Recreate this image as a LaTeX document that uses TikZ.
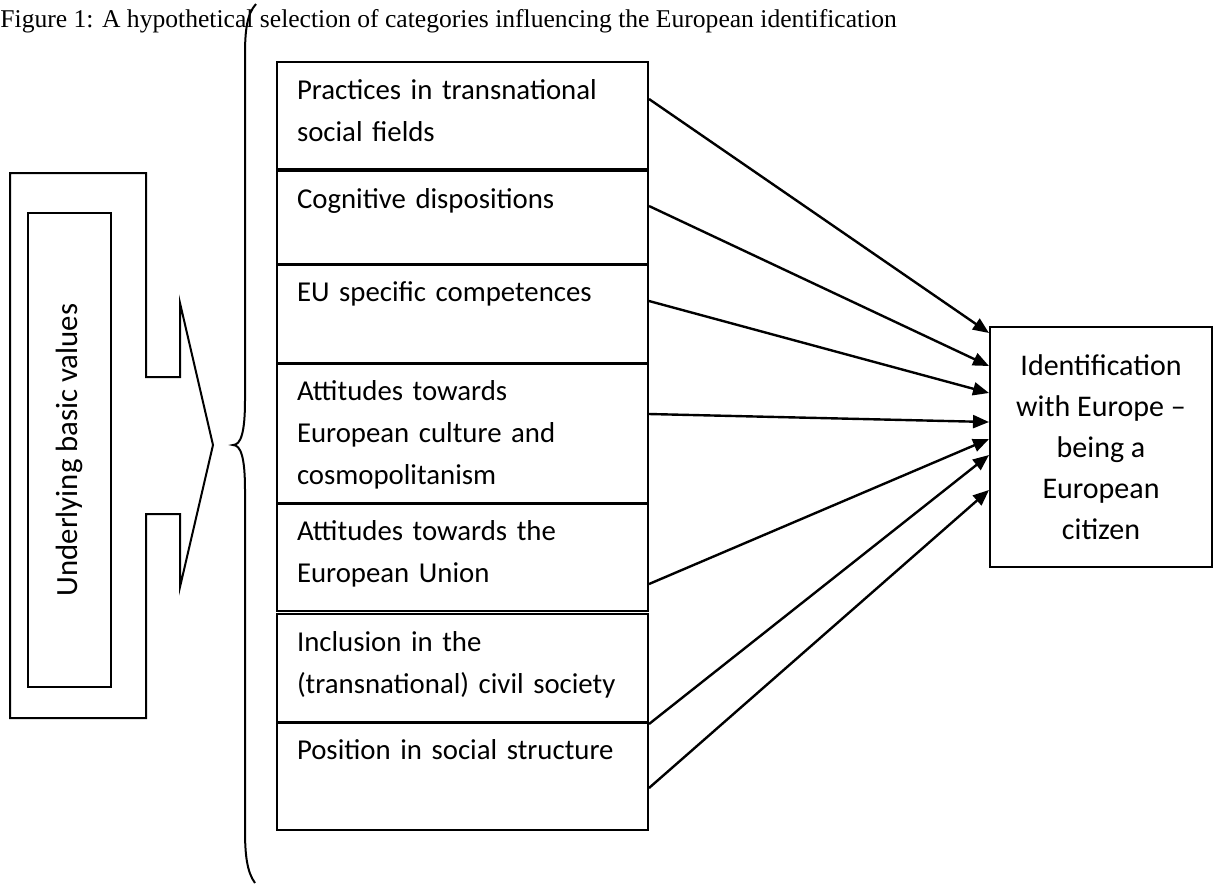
\documentclass[tikz,border=0pt]{standalone}
\usepackage{fontspec}
\setmainfont{Carlito}
\newfontfamily\titlefont{Liberation Serif}
\usetikzlibrary{arrows.meta}

\begin{document}
\begin{tikzpicture}[x=0.5pt, y=-0.5pt,
        every node/.style={font=\fontsize{14.4}{21}\selectfont},
        cat/.style={draw, line width=1pt, anchor=north west, text width=165.5pt, inner xsep=10pt, inner ysep=0pt, align=left, text height=18.5pt, text depth=#1},
        link/.style={line width=1.2pt, -{Triangle[length=8pt, width=6.5pt]}}]
        \clip (0,0) rectangle (1213,885);
        \node[anchor=base west, inner sep=0pt, font=\titlefont\fontsize{12.8}{15}\selectfont] (title) at (0,27) {Figure 1: A hypothetical selection of categories influencing the European identification};
        % chevron with the basic values
        \draw[line width=1pt] (10,173) -- (146,173) -- (146,377) -- (180,377) -- (180,303) -- (213,445) -- (180,587) -- (180,514) -- (146,514) -- (146,718) -- (10,718) -- cycle;
        \node[draw, line width=1pt, rotate=90, minimum width=237pt, minimum height=41.5pt, inner sep=0pt, font=\fontsize{15.4}{21}\selectfont] (values) at (69.5,450) {Underlying basic values};
        % brace
        \draw[line width=1pt] (256,4) .. controls (247,14) and (245,30) .. (245,55) -- (245,400) .. controls (245,432) and (241,445) .. (233,445) .. controls (241,445) and (245,458) .. (245,490) -- (245,830) .. controls (245,855) and (247,872) .. (255,883);
        % categories
        \node[cat=35pt] (prac) at (276,61) {Practices in transnational\\social fields};
        \node[cat=28.5pt] (cogn) at (276,170) {Cognitive dispositions};
        \node[cat=31.5pt] (comp) at (276,263) {EU specific competences};
        \node[cat=52pt] (cult) at (276,362) {Attitudes towards\\European culture and\\cosmopolitanism};
        \node[cat=35.5pt] (union) at (276,502) {Attitudes towards the\\European Union};
        \node[cat=36pt] (civil) at (276,613) {Inclusion in the\\(transnational) civil society};
        \node[cat=35.5pt] (pos) at (276,721) {Position in social structure};
        \node[draw, line width=1pt, minimum width=111pt, minimum height=120pt, align=center, inner sep=0pt, font=\fontsize{15}{20.5}\selectfont] (ident) at (1101,447) {Identification\\with Europe --\\being a\\European\\citizen};
        % arrows
        \draw[link] (prac.east |- 0,99) -- (ident.west |- 0,333);
        \draw[link] (cogn.east |- 0,206) -- (ident.west |- 0,366);
        \draw[link] (comp.east |- 0,301) -- (ident.west |- 0,393);
        \draw[link] (cult.east |- 0,414) -- (ident.west |- 0,422);
        \draw[link] (union.east |- 0,584) -- (ident.west |- 0,439);
        \draw[link] (civil.east |- 0,724) -- (ident.west |- 0,455);
        \draw[link] (pos.east |- 0,788) -- (ident.west |- 0,490);
    \end{tikzpicture}
\end{document}
